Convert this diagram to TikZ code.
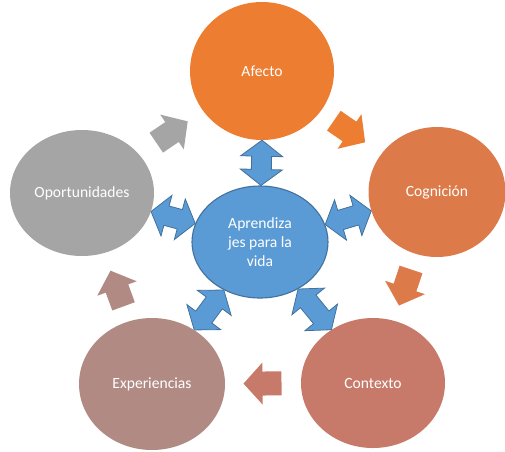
\documentclass[tikz,border=0pt]{standalone}
\usepackage{fontspec}
\setmainfont{Carlito}
\usetikzlibrary{shapes.geometric,calc}

\definecolor{cAfecto}{RGB}{237,125,49}
\definecolor{cCognicion}{RGB}{221,122,74}
\definecolor{cContexto}{RGB}{199,122,105}
\definecolor{cExper}{RGB}{177,138,131}
\definecolor{cOport}{RGB}{165,165,165}
\definecolor{cCentro}{RGB}{91,155,213}
\definecolor{cBorde}{RGB}{65,113,156}

\tikzset{
  blob/.style={ellipse, inner sep=0pt, text=white,
    font=\fontsize{15.6}{19}\selectfont},
  hub/.style={blob, fill=cCentro, draw=cBorde, line width=1.1pt, align=center},
  linkshape/.style={fill=cCentro, draw=cBorde, line width=0.8pt, line join=miter},
}

% block arrow centred between two nodes, pointing from #1 to #2
\newcommand\cyclearrow[3]{%
  \coordinate (m) at ($(#1)!0.5!(#2)$);
  \coordinate (s) at ($(m)!19pt!(#1)$);
  \coordinate (e) at ($(m)!19pt!(#2)$);
  \coordinate (hb) at ($(e)!19pt!(s)$);
  \fill[#3] ($(s)!12pt!90:(e)$) -- ($(hb)!12pt!-90:(s)$) -- ($(hb)!21pt!-90:(s)$)
    -- (e) -- ($(hb)!21pt!90:(s)$) -- ($(hb)!12pt!90:(s)$)
    -- ($(s)!12pt!-90:(e)$) -- cycle;
}

% double block arrow joining the borders of two nodes
\newcommand\linkarrow[2]{%
  \path let \p1=(#1), \p2=(#2),
    \n1={atan2(\y2-\y1,\x2-\x1)}, \n2={atan2(\y1-\y2,\x1-\x2)} in
    (#1.\n1) coordinate (s) (#2.\n2) coordinate (e);
  \coordinate (h1) at ($(s)!16pt!(e)$);
  \coordinate (h2) at ($(e)!16pt!(s)$);
  \filldraw[linkshape] (s) -- ($(h1)!21pt!90:(e)$) -- ($(h1)!10pt!90:(e)$)
    -- ($(h2)!10pt!-90:(s)$) -- ($(h2)!21pt!-90:(s)$) -- (e)
    -- ($(h2)!21pt!90:(s)$) -- ($(h2)!10pt!90:(s)$)
    -- ($(h1)!10pt!-90:(e)$) -- ($(h1)!21pt!-90:(e)$) -- cycle;
}

\begin{document}
\begin{tikzpicture}[x=1pt,y=-1pt]
  \fill[white] (0,0) rectangle (505,451);
  \useasboundingbox (0,0) rectangle (505,451);

  % outer ring
  \node[blob, fill=cAfecto, minimum width=144pt, minimum height=138pt] (afecto) at (262,71) {Afecto};
  \node[blob, fill=cCognicion, minimum width=137pt, minimum height=130pt] (cognicion) at (437,192) {Cognición};
  \node[blob, fill=cContexto, minimum width=144pt, minimum height=130pt] (contexto) at (373,383) {Contexto};
  \node[blob, fill=cExper, minimum width=146pt, minimum height=132pt] (experiencias) at (152,384) {Experiencias};
  \node[blob, fill=cOport, minimum width=144pt, minimum height=126pt] (oportunidades) at (82,193) {Oportunidades};

  % cycle arrows
  \cyclearrow{afecto}{cognicion}{cAfecto}
  \cyclearrow{cognicion}{contexto}{cCognicion}
  \cyclearrow{contexto}{experiencias}{cContexto}
  \cyclearrow{experiencias}{oportunidades}{cExper}
  \cyclearrow{oportunidades}{afecto}{cOport}

  % hub
  \node[hub, minimum width=136pt, minimum height=112pt] (centro) at (260,242)
    {Aprendiza\\jes para la\\vida};

  % links from hub to the ring
  \linkarrow{centro}{afecto}
  \linkarrow{centro}{cognicion}
  \linkarrow{centro}{contexto}
  \linkarrow{centro}{experiencias}
  \linkarrow{centro}{oportunidades}
\end{tikzpicture}
\end{document}
